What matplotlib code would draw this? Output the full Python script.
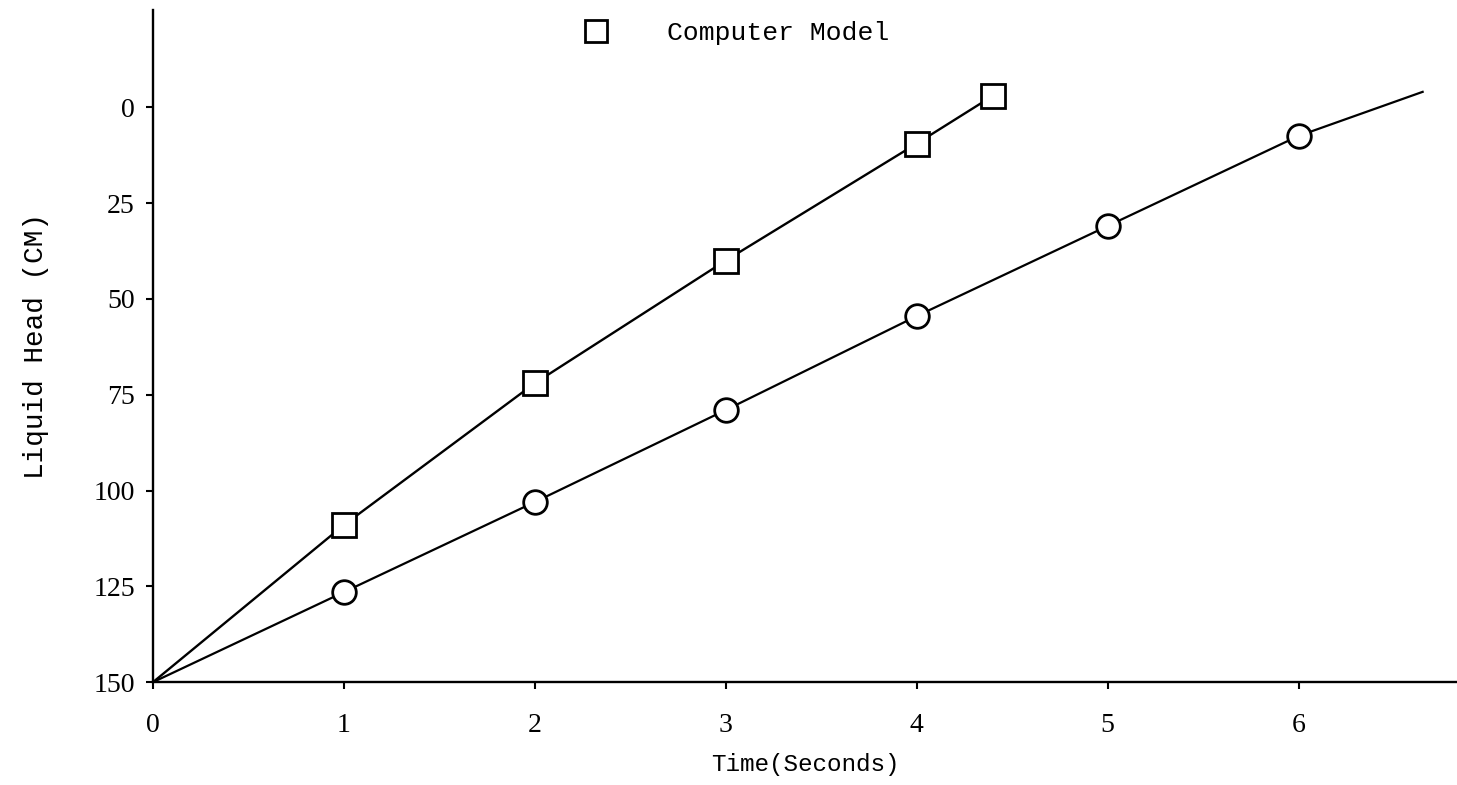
import matplotlib.pyplot as plt
from matplotlib.lines import Line2D

# Liquid head vs time: computer model (squares) and measured run (circles)
t_model = [0, 1, 2, 3, 4, 4.4]
head_model = [150, 109, 72, 40, 9.5, -3]

t_meas = [0, 1, 2, 3, 4, 5, 6, 6.65]
head_meas = [150, 126.5, 103, 79, 54.5, 31, 7.5, -4]

x_ticks = [0, 1, 2, 3, 4, 5, 6]
y_ticks = [0, 25, 50, 75, 100, 125, 150]

mono = 'Liberation Mono'
serif = 'Liberation Serif'

fig = plt.figure(figsize=(14.57, 7.85), dpi=100)
ax = fig.add_axes([0.105, 0.131, 0.895, 0.856])

ax.plot(t_model, head_model, color='black', lw=1.7, marker='s', ms=17,
        mfc='white', mec='black', mew=2.0, markevery=[1, 2, 3, 4, 5])
ax.plot(t_meas, head_meas, color='black', lw=1.6, marker='o', ms=17,
        mfc='white', mec='black', mew=2.0, markevery=[1, 2, 3, 4, 5, 6])

ax.set_xlim(0, 6.83)
ax.set_ylim(150, -25.3)

ax.set_xticks(x_ticks)
ax.set_yticks(y_ticks)
ax.set_xticklabels([str(v) for v in x_ticks], fontfamily=serif, fontsize=20)
ax.set_yticklabels([str(v) for v in y_ticks], fontfamily=serif, fontsize=20)
ax.tick_params(axis='x', direction='out', length=5, width=1.5, pad=17)
ax.tick_params(axis='y', direction='out', length=5, width=1.5, pad=8)

for side in ('top', 'right'):
    ax.spines[side].set_visible(False)
for side in ('left', 'bottom'):
    ax.spines[side].set_linewidth(1.7)

ax.set_xlabel('Time(Seconds)', fontfamily=mono, fontsize=17.5, labelpad=11)
ax.set_ylabel('Liquid Head (CM)', fontfamily=mono, fontsize=20, labelpad=32)

handle = Line2D([], [], linestyle='none', marker='s', ms=16, mfc='white',
                mec='black', mew=2.0)
ax.legend([handle], ['Computer Model'], loc='center left',
          bbox_to_anchor=(0.3837, 0.958), bbox_transform=fig.transFigure,
          frameon=False, prop={'family': mono, 'size': 19},
          handletextpad=1.7, borderaxespad=0)

fig.savefig('out.png', dpi=100)
